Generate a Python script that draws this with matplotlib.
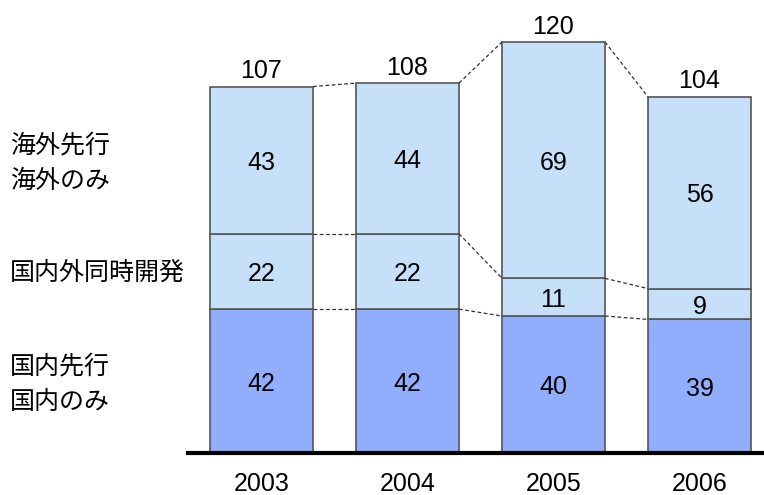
import numpy as np
import matplotlib.pyplot as plt

plt.rcParams['font.family'] = ['Liberation Sans', 'Noto Sans CJK JP', 'DejaVu Sans']

years = ['2003', '2004', '2005', '2006']
domestic = [42, 42, 40, 39]        # 国内先行 / 国内のみ
simultaneous = [22, 22, 11, 9]     # 国内外同時開発
overseas = [43, 44, 69, 56]        # 海外先行 / 海外のみ
totals = [107, 108, 120, 104]
row_labels = ['国内先行\n国内のみ', '国内外同時開発', '海外先行\n海外のみ']

dark = '#91aefc'
light = '#c6e0fa'
edge = '#555555'

fig = plt.figure(figsize=(7.64, 4.95), dpi=100)
ax = fig.add_axes([188 / 764, 1 - 453 / 495, 1 - 188 / 764, 453 / 495])

x = np.arange(len(years))
w = 103 / 146
d = np.array(domestic)
s = np.array(simultaneous)
o = np.array(overseas)

ax.bar(x, d, w, color=dark, edgecolor=edge, linewidth=1.2)
ax.bar(x, s, w, bottom=d, color=light, edgecolor=edge, linewidth=1.2)
ax.bar(x, o, w, bottom=d + s, color=light, edgecolor=edge, linewidth=1.2)

# dashed connectors between bars
levels = [d, d + s, d + s + o]
for i in range(len(years) - 1):
    for lv in levels:
        ax.plot([x[i] + w / 2, x[i + 1] - w / 2], [lv[i], lv[i + 1]],
                color='#333333', linestyle=(0, (3, 2)), linewidth=0.9)

fs = 18
for i in range(len(years)):
    ax.text(x[i], d[i] / 2, str(domestic[i]), ha='center', va='center_baseline', fontsize=fs)
    ax.text(x[i], d[i] + s[i] / 2, str(simultaneous[i]), ha='center', va='center_baseline', fontsize=fs)
    ax.text(x[i], d[i] + s[i] + o[i] / 2, str(overseas[i]), ha='center', va='center_baseline', fontsize=fs)
    ax.text(x[i], totals[i] + 1.0, str(totals[i]), ha='center', va='bottom', fontsize=fs)

ax.set_xlim(-(261.5 - 188) / 146, (764 - 261.5) / 146)
ax.set_ylim(0, 453 / 3.425)
ax.set_xticks(x)
ax.set_xticklabels(years, fontsize=fs)
ax.tick_params(axis='x', length=0, pad=14)
ax.set_yticks([])
for sp in ['top', 'right', 'left']:
    ax.spines[sp].set_visible(False)
ax.spines['bottom'].set_linewidth(3)

label_y = [384, 273, 163]
for lab, yy in zip(row_labels, label_y):
    fig.text(10 / 764, 1 - yy / 495, lab, ha='left', va='center', fontsize=fs,
             family=['Noto Sans CJK JP', 'DejaVu Sans'], linespacing=1.5)

fig.savefig('out.png', dpi=100)
